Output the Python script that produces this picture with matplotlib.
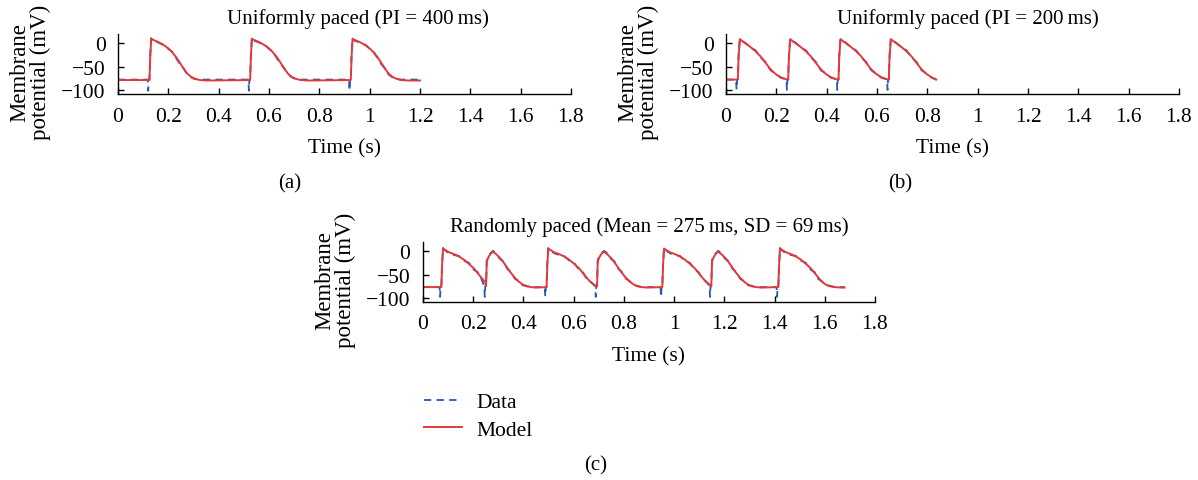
import matplotlib
matplotlib.use('Agg')
import matplotlib.pyplot as plt

plt.rcParams['font.family'] = ['Liberation Serif', 'DejaVu Serif']
plt.rcParams['font.size'] = 15
plt.rcParams['axes.unicode_minus'] = True

W, H = 1198, 481

# stimulus (upstroke) times in seconds and recording end
onsets_a = [0.125, 0.525, 0.925]
end_a = 1.2
onsets_b = [0.047, 0.247, 0.447, 0.647]
end_b = 0.835
onsets_c = [0.073, 0.251, 0.492, 0.693, 0.953, 1.148, 1.415]
end_c = 1.679
kinds_c = ['long', 'short', 'long', 'short', 'long', 'short', 'long']

# action potential shapes: time after upstroke (s) and membrane potential (mV)
off_a = [0, 0.003, 0.007, 0.012, 0.03, 0.045, 0.06, 0.075, 0.09, 0.105, 0.12, 0.135, 0.15, 0.165, 0.18, 0.2, 0.23]
model_a = [-79, -30, 10, 8, 4, 0, -5, -11, -19, -29, -41, -54, -65, -72, -76, -79, -80]
data_a = [-78, -25, 11, 6, 3, -1, -4, -12, -18, -31, -44, -53, -67, -73, -77, -78, -78]

off_b = [0, 0.003, 0.008, 0.015, 0.03, 0.05, 0.07, 0.09, 0.11, 0.13, 0.15, 0.17, 0.19]
model_b = [-78, -30, 9, 6, 0, -8, -17, -28, -42, -56, -66, -73, -77]
data_b = [-78, -25, 10, 5, 1, -9, -15, -30, -40, -58, -65, -74, -77]

off_c_long = [0, 0.003, 0.007, 0.012, 0.03, 0.05, 0.07, 0.09, 0.11, 0.13, 0.145, 0.16, 0.175, 0.19, 0.205, 0.225, 0.25]
model_c_long = [-77, -30, 6, 4, -2, -6, -11, -18, -27, -37, -47, -57, -66, -72, -75, -77, -78]
data_c_long = [-77, -25, 7, 3, -4, -8, -10, -20, -25, -40, -45, -60, -65, -73, -74, -77, -77]

off_c_short = [0, 0.003, 0.01, 0.02, 0.028, 0.04, 0.055, 0.07, 0.085, 0.1, 0.115, 0.13, 0.145, 0.16, 0.18, 0.2]
model_c_short = [-75, -22, -12, -4, -1, -6, -14, -24, -36, -47, -57, -65, -71, -75, -77, -78]
data_c_short = [-75, -18, -10, -3, 1, -4, -16, -22, -38, -45, -59, -64, -73, -74, -78, -77]

artifact_a, artifact_b, artifact_c = -102, -100, -98


def build_trace(onsets, shapes, t_end, v_end, spike=None):
    '''Strings beats together; the recorded trace also carries the stimulus artifact.'''
    t = [0.0]
    v = [shapes[0][1][0]]
    for k, t0 in enumerate(onsets):
        off, volt = shapes[k]
        t_next = onsets[k + 1] if k + 1 < len(onsets) else t_end
        cut = t_next - 0.007 if spike is not None and k + 1 < len(onsets) else t_next
        if spike is not None:
            t += [t0 - 0.007, t0 - 0.005, t0 - 0.003]
            v += [volt[0], spike, volt[0]]
        for dt, vv in zip(off, volt):
            if t0 + dt < cut:
                t.append(t0 + dt)
                v.append(vv)
    t.append(t_end)
    v.append(v_end)
    return t, v


def shapes_for(kinds, long_shape, short_shape):
    return [long_shape if k == 'long' else short_shape for k in kinds]


panels = [
    dict(rect=(118, 35, 453, 60), title='Uniformly paced (PI = 400\u2009ms)', tx=0.53,
         model=build_trace(onsets_a, [(off_a, model_a)] * 3, end_a, -80),
         data=build_trace(onsets_a, [(off_a, data_a)] * 3, end_a, -78, artifact_a),
         tag='(a)', tag_xy=(290, 184)),
    dict(rect=(726, 35, 453, 60), title='Uniformly paced (PI = 200\u2009ms)', tx=0.535,
         model=build_trace(onsets_b, [(off_b, model_b)] * 4, end_b, -78),
         data=build_trace(onsets_b, [(off_b, data_b)] * 4, end_b, -78, artifact_b),
         tag='(b)', tag_xy=(900, 184)),
    dict(rect=(423, 243, 452, 60), title='Randomly paced (Mean = 275\u2009ms, SD = 69\u2009ms)', tx=0.5,
         model=build_trace(onsets_c, shapes_for(kinds_c, (off_c_long, model_c_long), (off_c_short, model_c_short)), end_c, -78),
         data=build_trace(onsets_c, shapes_for(kinds_c, (off_c_long, data_c_long), (off_c_short, data_c_short)), end_c, -77, artifact_c),
         tag='(c)', tag_xy=(596, 466)),
]

fig = plt.figure(figsize=(W / 100, H / 100), dpi=100)

for p in panels:
    x0, y0, w, h = p['rect']
    ax = fig.add_axes([x0 / W, 1 - (y0 + h) / H, w / W, h / H])
    ld, = ax.plot(p['data'][0], p['data'][1], color='#2358b0', lw=1.3, ls=(0, (4, 3)), label='Data')
    lm, = ax.plot(p['model'][0], p['model'][1], color='#e5383b', lw=1.4, label='Model')
    ax.set_xlim(0, 1.8)
    ax.set_ylim(-109, 20)
    ax.set_xticks([0, 0.2, 0.4, 0.6, 0.8, 1, 1.2, 1.4, 1.6, 1.8])
    ax.set_xticklabels(['0', '0.2', '0.4', '0.6', '0.8', '1', '1.2', '1.4', '1.6', '1.8'])
    ax.set_yticks([0, -50, -100])
    ax.tick_params(direction='in', length=4, width=1, pad=9, labelsize=15.5)
    for s in ['top', 'right']:
        ax.spines[s].set_visible(False)
    for s in ['left', 'bottom']:
        ax.spines[s].set_linewidth(1)
    ax.set_xlabel('Time (s)', labelpad=9, fontsize=15.5)
    ax.set_ylabel('Membrane\npotential (mV)', linespacing=1.0, fontsize=16.5)
    ax.yaxis.set_label_coords(-67 / w, 0.38)
    ax.set_title(p['title'], x=p['tx'], pad=8, fontsize=15)
    fig.text(p['tag_xy'][0] / W, 1 - p['tag_xy'][1] / H, p['tag'], ha='center', va='center', fontsize=15)

fig.legend(handles=[ld, lm], loc='center left', bbox_to_anchor=(405 / W, 1 - 417 / H),
           frameon=False, handlelength=1.75, handletextpad=0.65, labelspacing=0.35, fontsize=15.5)

fig.savefig('out.png', dpi=100)
